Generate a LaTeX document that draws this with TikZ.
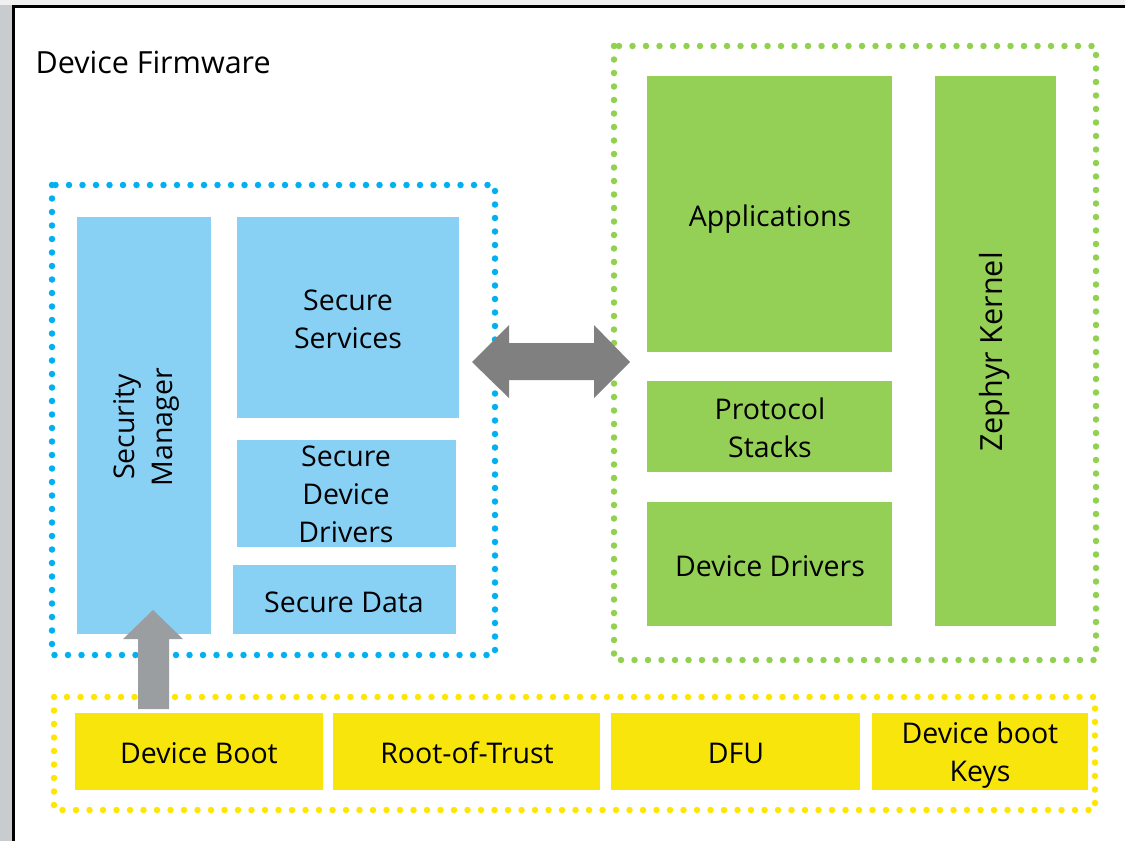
\documentclass[tikz,border=0pt]{standalone}
\usepackage{fontspec}
\setmainfont{Open Sans}
\definecolor{dotblue}{RGB}{0,176,240}
\definecolor{boxblue}{RGB}{137,208,245}
\definecolor{boxgreen}{RGB}{148,208,85}
\definecolor{dotgreen}{RGB}{146,208,80}
\definecolor{dotyellow}{RGB}{255,230,0}
\definecolor{boxyellow}{RGB}{248,229,12}
\definecolor{sidegray}{RGB}{201,204,206}
\definecolor{topgray}{RGB}{240,240,240}
\definecolor{arrowgray}{RGB}{155,158,161}
\definecolor{darkgray}{RGB}{128,128,128}
\tikzset{
  label text/.style={font=\fontsize{28.5}{38}\selectfont, align=center, text=black},
  big text/.style={label text, font=\fontsize{30.5}{38}\selectfont},
  dotframe/.style={line width=6.5pt, line cap=round, dash pattern=on 0pt off 13.5pt},
}
\begin{document}
\begin{tikzpicture}[x=1pt,y=-1pt]
\useasboundingbox (0,0) rectangle (1125,841);
% window background and frame
\fill[sidegray] (0,0) rectangle (1125,841);
\fill[topgray] (0,0) rectangle (1125,5);
\fill[white] (15,8) rectangle (1125,841);
\draw[line width=3pt] (13.5,841) -- (13.5,6.5) -- (1125,6.5);

\node[big text, anchor=west] (title) at (32,62) {Device Firmware};

% secure side
\draw[dotframe, dotblue] (52,185) rectangle (495,655);
\fill[boxblue] (77,217) rectangle (211,634);
\node[label text, rotate=90] (secmgr) at (146,427) {Security\\Manager};
\fill[boxblue] (237,217) rectangle (459,418);
\node[label text] (secsvc) at (348,319) {Secure\\Services};
\fill[boxblue] (237,440) rectangle (456,547);
\node[label text] (secdrv) at (346,494) {Secure\\Device\\Drivers};
\fill[boxblue] (233,565) rectangle (456,634);
\node[label text] (secdata) at (344,602) {Secure Data};

% non-secure side
\draw[dotframe, dotgreen] (614,46) rectangle (1096,660);
\fill[boxgreen] (647,76) rectangle (892,352);
\node[label text] (apps) at (770,219) {Applications};
\fill[boxgreen] (647,381) rectangle (892,472);
\node[label text] (proto) at (770,428) {Protocol\\Stacks};
\fill[boxgreen] (647,502) rectangle (892,626);
\node[label text] (drv) at (770,566) {Device Drivers};
\fill[boxgreen] (935,76) rectangle (1056,626);
\node[big text, rotate=90] (kernel) at (995,352) {Zephyr Kernel};

% boot layer
\draw[dotframe, dotyellow] (54,697) rectangle (1095,810);
\fill[boxyellow] (75,713) rectangle (323,790);
\node[label text] (boot) at (199,753) {Device Boot};
\fill[boxyellow] (333,713) rectangle (600,790);
\node[label text] (rot) at (467,753) {Root-of-Trust};
\fill[boxyellow] (611,713) rectangle (860,790);
\node[label text] (dfu) at (736,753) {DFU};
\fill[boxyellow] (872,713) rectangle (1088,790);
\node[label text] (keys) at (980,755) {Device boot\\Keys};

% boot hands over to the security manager
\fill[arrowgray] (138,709) -- (138,639) -- (123,639) -- (153,610) -- (183,639)
  -- (169,639) -- (169,709) -- cycle;
% secure / non-secure interface
\fill[darkgray] (472,362) -- (509,325) -- (509,343) -- (594,343) -- (594,325)
  -- (630,362) -- (594,398) -- (594,380) -- (509,380) -- (509,398) -- cycle;
\end{tikzpicture}
\end{document}
